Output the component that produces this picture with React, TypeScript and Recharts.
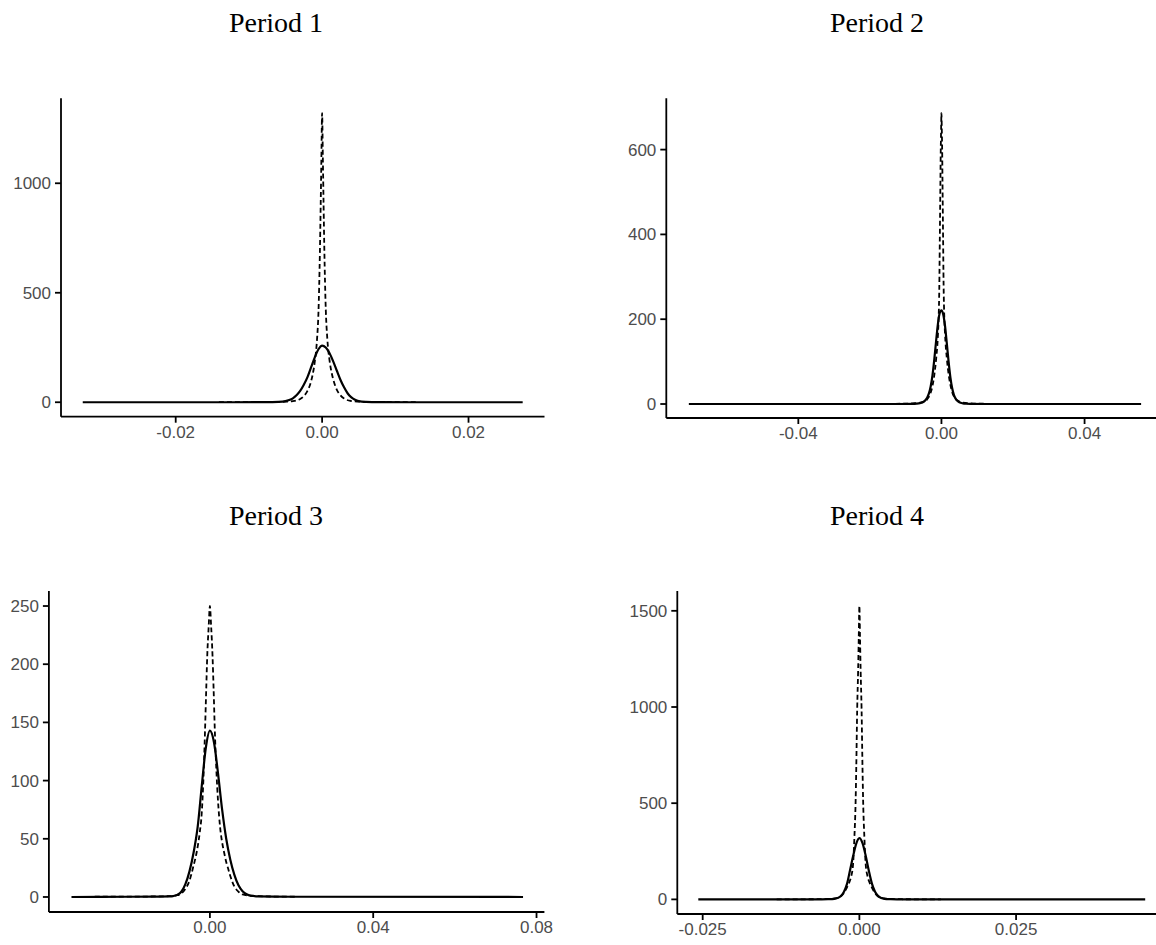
import React from 'react';
import { LineChart, Line, XAxis, YAxis } from 'recharts';

type Pt = [number, number];

// density curves: [return, density]
const period1Solid: Pt[] = [
  [-0.0327, 0], [-0.012, 0], [-0.008, 0.2], [-0.007, 0.6], [-0.006, 1.5], [-0.005, 5], [-0.0045, 10],
  [-0.004, 18], [-0.0035, 32], [-0.003, 52], [-0.0025, 80], [-0.002, 115], [-0.0015, 160], [-0.001, 205],
  [-0.0005, 242], [0, 259], [0.0005, 250], [0.001, 225], [0.0015, 188], [0.002, 145], [0.0025, 103],
  [0.003, 68], [0.0035, 40], [0.004, 22], [0.0045, 11], [0.005, 5], [0.006, 1.5], [0.007, 0.6],
  [0.008, 0.2], [0.012, 0], [0.0274, 0],
];
const period1Dashed: Pt[] = [
  [-0.0141, 0.3], [-0.008, 0.6], [-0.006, 1.2], [-0.005, 2.5], [-0.004, 5], [-0.003, 15], [-0.0025, 28],
  [-0.002, 52], [-0.0016, 85], [-0.0013, 125], [-0.001, 185], [-0.0007, 285], [-0.0005, 410], [-0.0004, 530],
  [-0.0003, 690], [-0.0002, 890], [-0.0001, 1110], [0, 1320], [0.0001, 1120], [0.0002, 905], [0.0003, 705],
  [0.0004, 545], [0.0005, 425], [0.0007, 295], [0.001, 195], [0.0013, 135], [0.0016, 95], [0.002, 58],
  [0.0025, 32], [0.003, 17], [0.004, 5.5], [0.005, 2.5], [0.006, 1.2], [0.008, 0.6], [0.0128, 0.3],
];

const period2Solid: Pt[] = [
  [-0.0706, 0], [-0.012, 0], [-0.008, 0.3], [-0.007, 0.8], [-0.006, 2], [-0.005, 5], [-0.0045, 9],
  [-0.004, 15], [-0.0035, 25], [-0.003, 42], [-0.0025, 68], [-0.002, 105], [-0.0015, 148], [-0.001, 188],
  [-0.0005, 214], [0, 221], [0.0005, 211], [0.001, 184], [0.0015, 143], [0.002, 100], [0.0025, 63],
  [0.003, 37], [0.0035, 21], [0.004, 12], [0.0045, 7], [0.005, 4], [0.006, 1.5], [0.007, 0.6],
  [0.008, 0.2], [0.012, 0], [0.0558, 0],
];
const period2Dashed: Pt[] = [
  [-0.0174, 0.3], [-0.01, 0.8], [-0.008, 1.5], [-0.006, 3], [-0.005, 5.5], [-0.004, 11], [-0.003, 27],
  [-0.0025, 43], [-0.002, 68], [-0.0015, 105], [-0.001, 160], [-0.0008, 200], [-0.0006, 275], [-0.00045, 395],
  [-0.0003, 515], [-0.0002, 595], [-0.0001, 645], [0, 686], [0.0001, 648], [0.0002, 600], [0.0003, 520],
  [0.00045, 400], [0.0006, 282], [0.0008, 205], [0.001, 165], [0.0015, 108], [0.002, 70], [0.0025, 45],
  [0.003, 28], [0.004, 12], [0.005, 6], [0.006, 3], [0.008, 1.5], [0.01, 0.8], [0.0164, 0.3],
];

const period3Solid: Pt[] = [
  [-0.0339, 0], [-0.02, 0.2], [-0.014, 0.3], [-0.01, 0.5], [-0.009, 0.8], [-0.008, 1.8], [-0.007, 4.5],
  [-0.006, 11], [-0.005, 22], [-0.004, 38], [-0.003, 60], [-0.002, 95], [-0.001, 128], [0, 143],
  [0.001, 133], [0.002, 106], [0.003, 75], [0.004, 50], [0.005, 32], [0.006, 19], [0.007, 10],
  [0.008, 5], [0.009, 2.3], [0.01, 1.1], [0.012, 0.5], [0.02, 0.2], [0.0767, 0],
];
const period3Dashed: Pt[] = [
  [-0.0282, 0.2], [-0.015, 0.4], [-0.01, 0.7], [-0.008, 1.5], [-0.007, 3], [-0.006, 7], [-0.005, 14],
  [-0.0045, 20], [-0.004, 27], [-0.0035, 34], [-0.003, 43], [-0.0025, 55], [-0.002, 72], [-0.0016, 100],
  [-0.0012, 142], [-0.0009, 178], [-0.00066, 206], [-0.0003, 232], [0, 250], [0.0003, 233], [0.00066, 206],
  [0.0009, 180], [0.0012, 144], [0.0016, 108], [0.002, 82], [0.0025, 60], [0.003, 47], [0.0035, 38],
  [0.004, 30], [0.0045, 24], [0.005, 18], [0.006, 9], [0.007, 4.5], [0.008, 2.2], [0.01, 1], [0.015, 0.4],
  [0.0212, 0.2],
];

const period4Solid: Pt[] = [
  [-0.0257, 0], [-0.01, 0], [-0.006, 0.3], [-0.005, 1], [-0.004, 3], [-0.0035, 7], [-0.003, 16],
  [-0.0025, 37], [-0.002, 78], [-0.0015, 150], [-0.001, 225], [-0.0005, 290], [0, 318], [0.0005, 292],
  [0.001, 228], [0.0015, 150], [0.002, 82], [0.0025, 40], [0.003, 17], [0.0035, 7], [0.004, 3],
  [0.005, 1], [0.006, 0.3], [0.01, 0], [0.0456, 0],
];
const period4Dashed: Pt[] = [
  [-0.0132, 0.3], [-0.008, 0.6], [-0.006, 1.2], [-0.005, 2], [-0.004, 5], [-0.003, 15], [-0.0025, 32],
  [-0.0021, 55], [-0.0016, 90], [-0.0013, 120], [-0.001, 185], [-0.0008, 320], [-0.0006, 510], [-0.0005, 680],
  [-0.00035, 990], [-0.0002, 1190], [-0.0001, 1360], [0, 1526], [0.0001, 1360], [0.0002, 1190], [0.00035, 990],
  [0.0005, 680], [0.0006, 510], [0.0008, 320], [0.001, 185], [0.0013, 120], [0.0016, 90], [0.0021, 55],
  [0.0025, 32], [0.003, 15], [0.004, 5], [0.005, 2], [0.006, 1.2], [0.008, 0.6], [0.013, 0.3],
];

const titles = ['Period 1', 'Period 2', 'Period 3', 'Period 4'];
const xTicks = [[-0.02, 0, 0.02], [-0.04, 0, 0.04], [0, 0.04, 0.08], [-0.025, 0, 0.025]];
const yTicks = [[0, 500, 1000], [0, 200, 400, 600], [0, 50, 100, 150, 200, 250], [0, 500, 1000, 1500]];
const xDigits = [2, 2, 2, 3];

const rows = (pts: Pt[]) => pts.map(([x, y]) => ({ x, y }));

const tickStyle = { fill: '#4D4D4D', fontSize: 17, fontFamily: '"Liberation Sans", Arial, sans-serif' };
const axisStroke = { stroke: '#000', strokeWidth: 1.8 };

interface PanelProps {
  solid: Pt[];
  dashed: Pt[];
  xDomain: [number, number];
  yDomain: [number, number];
  xTicks: number[];
  yTicks: number[];
  digits: number;
  left: number;
  top: number;
  width: number;
  height: number;
  yAxisWidth: number;
  margin: { top: number; right: number; bottom: number; left: number };
}

function DensityPanel(p: PanelProps) {
  return (
    <div style={{ position: 'absolute', left: p.left, top: p.top }}>
      <LineChart width={p.width} height={p.height} margin={p.margin}>
        <XAxis
          type="number"
          dataKey="x"
          domain={p.xDomain}
          ticks={p.xTicks}
          allowDataOverflow
          interval={0}
          tickFormatter={(v: number) => v.toFixed(p.digits)}
          tick={tickStyle}
          tickLine={axisStroke}
          axisLine={axisStroke}
          tickSize={6}
          tickMargin={3}
          height={30}
        />
        <YAxis
          type="number"
          domain={p.yDomain}
          ticks={p.yTicks}
          allowDataOverflow
          interval={0}
          tick={tickStyle}
          tickLine={axisStroke}
          axisLine={axisStroke}
          tickSize={6}
          tickMargin={4}
          width={p.yAxisWidth}
        />
        <Line data={rows(p.solid)} dataKey="y" type="monotone" stroke="#000" strokeWidth={2.2} dot={false} isAnimationActive={false} />
        <Line data={rows(p.dashed)} dataKey="y" type="monotone" stroke="#000" strokeWidth={1.8} strokeDasharray="5 3" dot={false} isAnimationActive={false} />
      </LineChart>
    </div>
  );
}

const titleStyle = (cx: number, baseline: number): React.CSSProperties => ({
  position: 'absolute',
  left: cx - 150,
  top: baseline - 23.5,
  width: 300,
  textAlign: 'center',
  fontFamily: '"Liberation Serif", "Times New Roman", serif',
  fontSize: 28,
  lineHeight: '28px',
  color: '#000',
});

export default function App() {
  return (
    <div style={{ position: 'absolute', left: 0, top: 0, width: 1156, height: 945, overflow: 'hidden', background: '#fff' }}>
      <div style={titleStyle(276, 32.7)}>{titles[0]}</div>
      <div style={titleStyle(877, 32.7)}>{titles[1]}</div>
      <div style={titleStyle(276, 525.7)}>{titles[2]}</div>
      <div style={titleStyle(877, 525.7)}>{titles[3]}</div>

      <DensityPanel
        solid={period1Solid}
        dashed={period1Dashed}
        xDomain={[-0.03567, 0.03038]}
        yDomain={[-66, 1388]}
        xTicks={xTicks[0]}
        yTicks={yTicks[0]}
        digits={xDigits[0]}
        left={0}
        top={0}
        width={578}
        height={472}
        yAxisWidth={61}
        margin={{ top: 98.3, right: 33.5, bottom: 25.3, left: 0 }}
      />
      <DensityPanel
        solid={period2Solid}
        dashed={period2Dashed}
        xDomain={[-0.0769, 0.0622]}
        yDomain={[-33, 721]}
        xTicks={xTicks[1]}
        yTicks={yTicks[1]}
        digits={xDigits[1]}
        left={578}
        top={0}
        width={600}
        height={472}
        yAxisWidth={88.3}
        margin={{ top: 98.3, right: 14, bottom: 24, left: 0 }}
      />
      <DensityPanel
        solid={period3Solid}
        dashed={period3Dashed}
        xDomain={[-0.03943, 0.08193]}
        yDomain={[-12.9, 262.9]}
        xTicks={xTicks[2]}
        yTicks={yTicks[2]}
        digits={xDigits[2]}
        left={0}
        top={472}
        width={578}
        height={473}
        yAxisWidth={48.9}
        margin={{ top: 119, right: 33.6, bottom: 3, left: 0 }}
      />
      <DensityPanel
        solid={period4Solid}
        dashed={period4Dashed}
        xDomain={[-0.02905, 0.04919]}
        yDomain={[-76, 1603]}
        xTicks={xTicks[3]}
        yTicks={yTicks[3]}
        digits={xDigits[3]}
        left={578}
        top={472}
        width={600}
        height={473}
        yAxisWidth={99.3}
        margin={{ top: 119, right: 10.3, bottom: 1, left: 0 }}
      />
    </div>
  );
}
